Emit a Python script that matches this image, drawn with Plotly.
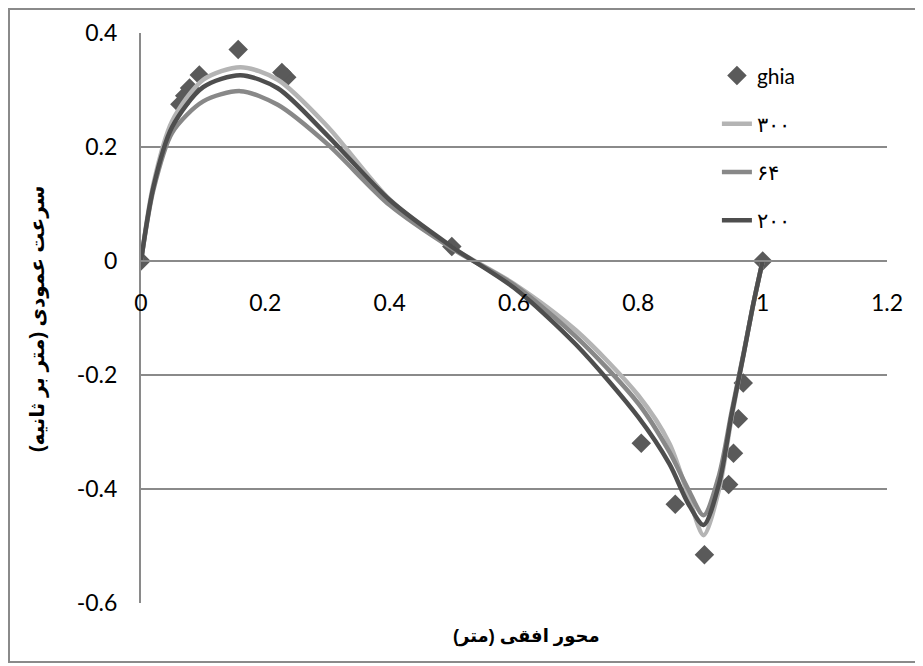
import plotly.graph_objects as go

# ---- data ----
ghia_x = [1.0, 0.9688, 0.9609, 0.9531, 0.9453, 0.9063, 0.8594, 0.8047, 0.5,
          0.2344, 0.2266, 0.1563, 0.0938, 0.0781, 0.0703, 0.0625, 0.0]
ghia_y = [0.0, -0.2139, -0.2767, -0.3371, -0.3919, -0.5155, -0.4267, -0.3197, 0.0253,
          0.3224, 0.3308, 0.3710, 0.3263, 0.3035, 0.2901, 0.2749, 0.0]

s300_x = [0, 0.02, 0.05, 0.1, 0.16, 0.22, 0.3, 0.4, 0.5, 0.6, 0.7, 0.8, 0.85, 0.88, 0.905, 0.93, 0.95, 0.97, 0.985, 1.0]
s300_y = [0, 0.135, 0.245, 0.318, 0.340, 0.318, 0.236, 0.108, 0.024, -0.040, -0.122, -0.236, -0.320, -0.410, -0.481, -0.400, -0.275, -0.160, -0.075, 0]

s64_x = [0, 0.02, 0.05, 0.1, 0.16, 0.22, 0.3, 0.4, 0.5, 0.6, 0.7, 0.8, 0.85, 0.88, 0.905, 0.93, 0.95, 0.97, 0.985, 1.0]
s64_y = [0, 0.125, 0.225, 0.280, 0.298, 0.274, 0.205, 0.098, 0.022, -0.042, -0.133, -0.250, -0.335, -0.400, -0.446, -0.375, -0.265, -0.158, -0.075, 0]

s200_x = [0, 0.02, 0.05, 0.1, 0.16, 0.22, 0.3, 0.4, 0.5, 0.6, 0.7, 0.8, 0.85, 0.88, 0.905, 0.93, 0.95, 0.97, 0.985, 1.0]
s200_y = [0, 0.130, 0.235, 0.305, 0.326, 0.303, 0.220, 0.107, 0.025, -0.047, -0.147, -0.274, -0.356, -0.425, -0.463, -0.390, -0.270, -0.160, -0.075, 0]

series_names = ["ghia", "۳۰۰", "۶۴", "۲۰۰"]

x_tickvals = [0, 0.2, 0.4, 0.6, 0.8, 1.0, 1.2]
x_ticktext = ["0", "0.2", "0.4", "0.6", "0.8", "1", "1.2"]
y_tickvals = [0.4, 0.2, 0, -0.2, -0.4, -0.6]
y_ticktext = ["0.4", "0.2", "0", "-0.2", "-0.4", "-0.6"]

x_title = "محور افقی (متر)"
y_title = "سرعت عمودی (متر بر ثانیه)"

# ---- styles ----
tick_font = dict(family="Lato, Open Sans, sans-serif", size=23, color="black")
legend_font = dict(family="Lato, Open Sans, sans-serif", size=21, color="black")
xtitle_font = dict(family="Liberation Sans, DejaVu Sans, sans-serif", size=18, color="black")
ytitle_font = dict(family="Liberation Sans, DejaVu Sans, sans-serif", size=20, color="black")
grid_col = "#8a8a8a"

fig = go.Figure()
fig.add_trace(go.Scatter(x=ghia_x, y=ghia_y, mode="markers", name=series_names[0],
                         legendgroup="g0",
                         marker=dict(symbol="diamond", size=15, color="#5a5a5a")))
fig.add_trace(go.Scatter(x=s300_x, y=s300_y, mode="lines", name=series_names[1],
                         legendgroup="g1",
                         line=dict(color="#b4b4b4", width=4.5, shape="spline", smoothing=0.8)))
fig.add_trace(go.Scatter(x=s64_x, y=s64_y, mode="lines", name=series_names[2],
                         legendgroup="g2",
                         line=dict(color="#888888", width=4.5, shape="spline", smoothing=0.8)))
fig.add_trace(go.Scatter(x=s200_x, y=s200_y, mode="lines", name=series_names[3],
                         legendgroup="g3",
                         line=dict(color="#4e4e4e", width=4.5, shape="spline", smoothing=0.8)))

fig.update_layout(
    width=923, height=666,
    margin=dict(l=133, r=44, t=25, b=71, autoexpand=False),
    paper_bgcolor="white", plot_bgcolor="white",
    showlegend=True,
    legend=dict(x=0.772, y=0.961, xanchor="left", yanchor="top",
                bgcolor="rgba(0,0,0,0)", font=legend_font,
                traceorder="grouped", tracegroupgap=18),
    xaxis=dict(range=[0, 1.2], tickvals=x_tickvals, ticktext=x_ticktext,
               showgrid=False, zeroline=False, showline=True, linecolor=grid_col, linewidth=2,
               anchor="free", position=0.6, ticks="", ticklabelstandoff=21,
               tickfont=tick_font, automargin=False),
    yaxis=dict(range=[-0.6, 0.4], tickvals=y_tickvals, ticktext=y_ticktext,
               showgrid=True, gridcolor=grid_col, gridwidth=2, zeroline=False,
               showline=True, linecolor=grid_col, linewidth=2, ticks="",
               ticklabelstandoff=17, tickfont=tick_font, automargin=False),
    annotations=[
        dict(text="<b>" + x_title + "</b>", xref="paper", yref="paper",
             x=0.517, y=-0.0596, xanchor="center", yanchor="middle",
             showarrow=False, font=xtitle_font),
        dict(text="<b>" + y_title + "</b>", xref="paper", yref="paper",
             x=-0.1394, y=0.498, xanchor="center", yanchor="middle",
             showarrow=False, textangle=-90, font=ytitle_font),
    ],
    shapes=[dict(type="rect", xref="paper", yref="paper",
                 x0=(9 - 141) / 746, x1=(920 - 141) / 746,
                 y0=(603 - 662) / 570, y1=(603 - 9) / 570,
                 line=dict(color="#8a8a8a", width=2), fillcolor="rgba(0,0,0,0)",
                 layer="below")],
)

fig.write_html("out.html")
